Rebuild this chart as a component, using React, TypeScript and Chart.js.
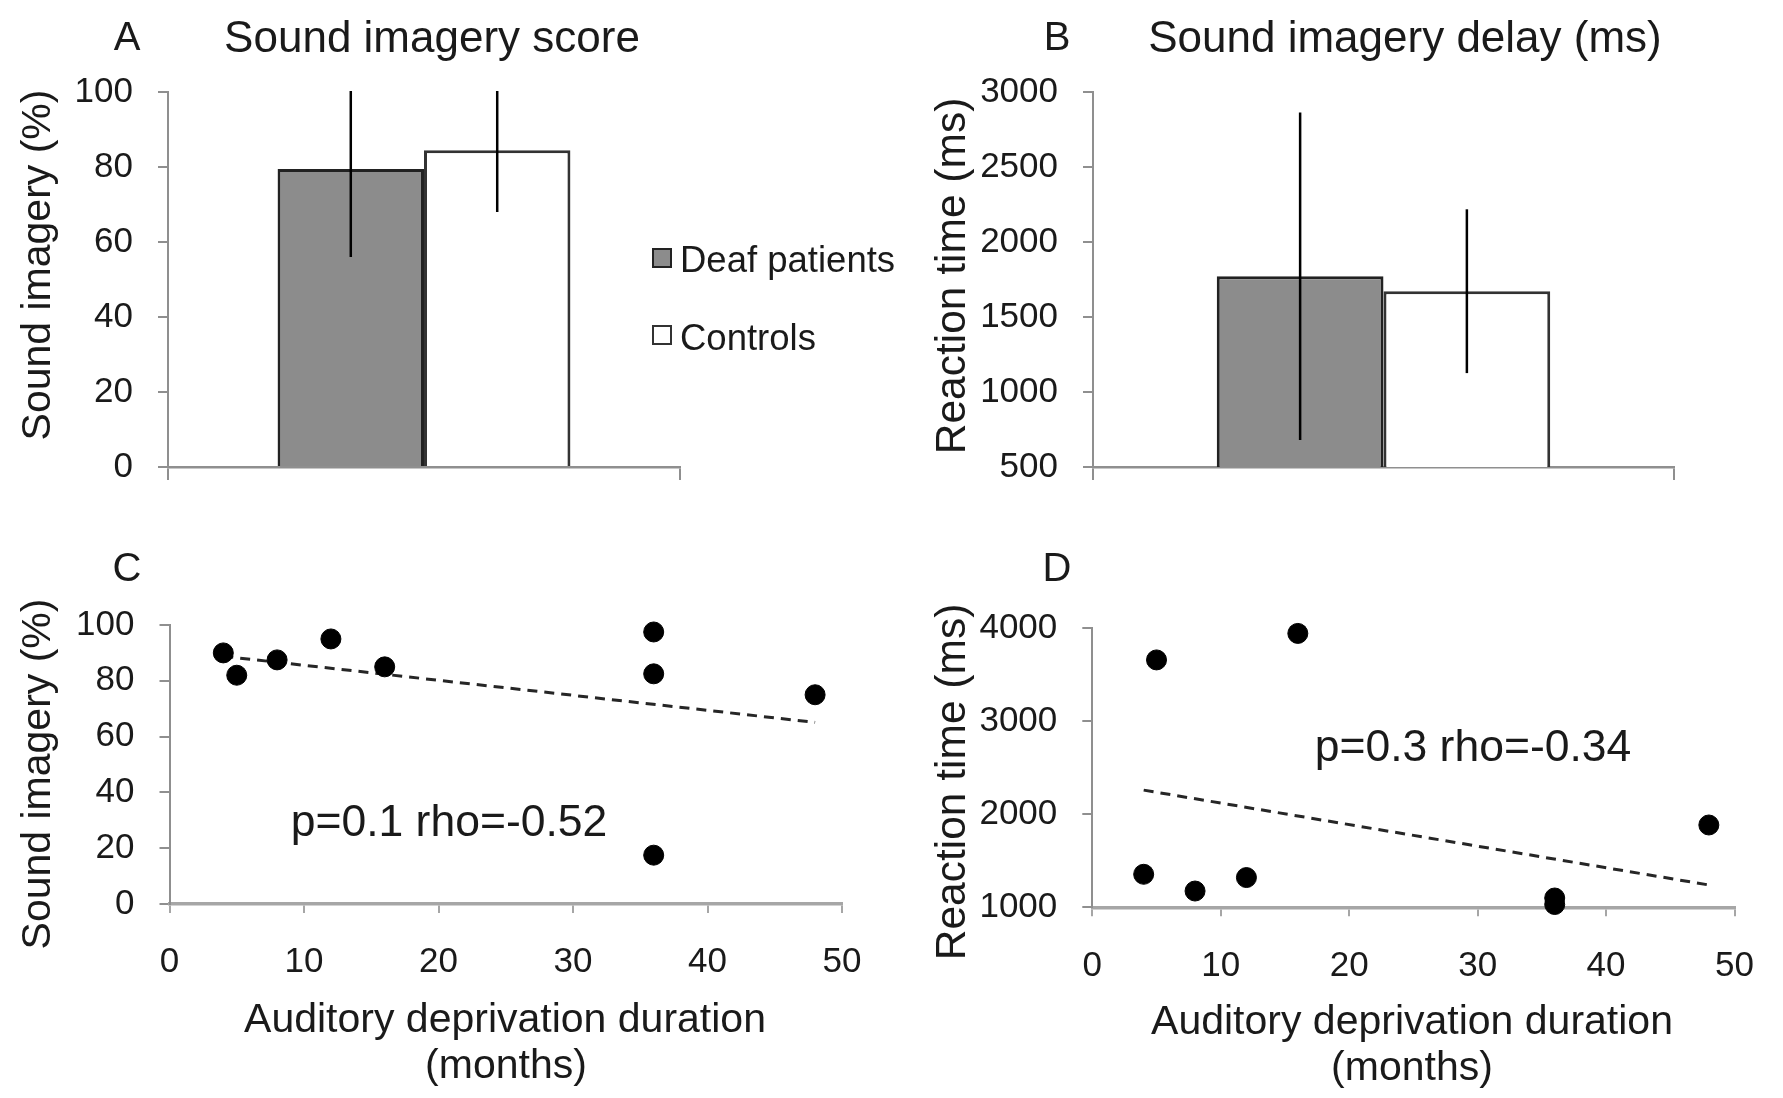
import React, { useEffect, useRef } from 'react';
import { Chart, registerables } from 'chart.js';

Chart.register(...registerables);

const FONT = '"Liberation Sans", Arial, Helvetica, sans-serif';
const INK = '#1a1a1a';
const AXIS = '#8f8f8f';
const AXIS_LIGHT = '#a6a6a6';

// ---- Panels A & B : group means with SD error bars ----
const GROUPS = ['Deaf patients', 'Controls'];
const GROUP_FILL = ['#8c8c8c', '#ffffff'];
const GROUP_EDGE = ['#222222', '#333333'];
const SCORE_MEAN = [79.5, 84.5];
const SCORE_SD = [23.5, 16.5];
const DELAY_MEAN = [1772, 1672];
const DELAY_SD = [1092, 546];

// axis ranges [min, max] and tick steps
const SCORE_RANGE = [0, 100];
const SCORE_STEP = 20;
const DELAY_RANGE = [500, 3000];
const DELAY_STEP = 500;
const MONTH_RANGE = [0, 50];
const MONTH_STEP = 10;
const RT_RANGE = [1000, 4000];
const RT_STEP = 1000;

// ---- Panel C : sound imagery vs deprivation duration ----
const MONTHS_C = [4, 5, 8, 12, 16, 36, 36, 36, 48];
const SCORE_C = [90, 82, 87.5, 95, 85, 97.5, 82.5, 17.5, 75];
const TREND_C_X = [4, 48];
const TREND_C_Y = [88.8, 65.1];

// ---- Panel D : reaction time vs deprivation duration ----
const MONTHS_D = [4, 5, 8, 12, 16, 36, 36, 48];
const RT_D = [1355, 3660, 1175, 1320, 3945, 1100, 1030, 1885];
const TREND_D_X = [4, 48];
const TREND_D_Y = [2260, 1240];

const STATS_C = 'p=0.1 rho=-0.52';
const STATS_D = 'p=0.3 rho=-0.34';

const plainNumber = (v: any) => String(v);

const errorBarPlugin = {
  id: 'errorBars',
  afterDatasetsDraw(chart: any) {
    const { ctx, chartArea, scales } = chart;
    const y = scales.y;
    ctx.save();
    ctx.beginPath();
    ctx.rect(chartArea.left, chartArea.top - 1, chartArea.right - chartArea.left, chartArea.bottom - chartArea.top + 1);
    ctx.clip();
    ctx.strokeStyle = '#000000';
    ctx.lineWidth = 2.5;
    chart.data.datasets.forEach((ds: any, i: number) => {
      const meta = chart.getDatasetMeta(i);
      (ds.errors || []).forEach((sd: number, j: number) => {
        const el = meta.data[j];
        const v = ds.data[j];
        const top = y.getPixelForValue(v + sd);
        const bot = y.getPixelForValue(v - sd);
        ctx.beginPath();
        ctx.moveTo(el.x, top);
        ctx.lineTo(el.x, bot);
        ctx.stroke();
      });
    });
    ctx.restore();
  },
};

function yScale(range: number[], step: number, width: number, color: string) {
  return {
    type: 'linear',
    min: range[0],
    max: range[1],
    ticks: { stepSize: step, font: { family: FONT, size: 35 }, color: INK, padding: 25, callback: plainNumber },
    grid: { drawOnChartArea: false, drawTicks: true, tickLength: 10, color, lineWidth: 2 },
    border: { color, width: 2 },
    afterFit: (s: any) => { s.width = width; },
  };
}

function barConfig(means: number[], sds: number[], range: number[], step: number, yWidth: number, padRight: number, catPct: number) {
  return {
    type: 'bar',
    data: {
      labels: [''],
      datasets: GROUPS.map((g, i) => ({
        label: g,
        data: [means[i]],
        errors: [sds[i]],
        backgroundColor: GROUP_FILL[i],
        borderColor: GROUP_EDGE[i],
        borderWidth: 3,
        categoryPercentage: catPct,
        barPercentage: 1,
      })),
    },
    options: {
      responsive: false,
      animation: false,
      devicePixelRatio: 1,
      layout: { padding: { top: 92, right: padRight, bottom: 0, left: 0 } },
      plugins: { legend: { display: false }, tooltip: { enabled: false } },
      scales: {
        x: {
          type: 'category',
          offset: true,
          grid: { offset: true, drawOnChartArea: false, drawTicks: true, tickLength: 13, color: AXIS, lineWidth: 2 },
          border: { color: AXIS, width: 2.5 },
          ticks: { display: false },
          afterFit: (s: any) => { s.height = 73; },
        },
        y: yScale(range, step, yWidth, AXIS),
      },
    },
    plugins: [errorBarPlugin],
  };
}

function scatterConfig(xs: number[], ys: number[], tx: number[], ty: number[], yRange: number[], yStep: number,
  yWidth: number, padTop: number, padRight: number, xHeight: number, xPad: number) {
  return {
    type: 'scatter',
    data: {
      datasets: [
        {
          label: 'patients',
          data: xs.map((x, i) => ({ x, y: ys[i] })),
          backgroundColor: '#000000',
          borderColor: '#000000',
          pointRadius: 10,
          pointHoverRadius: 10,
          clip: false,
        },
        {
          label: 'trend',
          data: tx.map((x, i) => ({ x, y: ty[i] })),
          showLine: true,
          borderColor: '#262626',
          borderWidth: 3,
          borderDash: [10, 7],
          pointRadius: 0,
          fill: false,
          clip: false,
        },
      ],
    },
    options: {
      responsive: false,
      animation: false,
      devicePixelRatio: 1,
      layout: { padding: { top: padTop, right: padRight, bottom: 0, left: 0 } },
      plugins: { legend: { display: false }, tooltip: { enabled: false } },
      scales: {
        x: {
          type: 'linear',
          min: MONTH_RANGE[0],
          max: MONTH_RANGE[1],
          ticks: { stepSize: MONTH_STEP, font: { family: FONT, size: 35 }, color: INK, padding: xPad, callback: plainNumber },
          grid: { drawOnChartArea: false, drawTicks: true, tickLength: 9, color: AXIS_LIGHT, lineWidth: 2 },
          border: { color: AXIS_LIGHT, width: 3.5 },
          afterFit: (s: any) => { s.height = xHeight; },
        },
        y: yScale(yRange, yStep, yWidth, AXIS),
      },
    },
  };
}

function ChartCanvas({ left, top, width, height, make }: any) {
  const ref = useRef<HTMLCanvasElement | null>(null);
  useEffect(() => {
    const chart = new Chart(ref.current as HTMLCanvasElement, make());
    return () => chart.destroy();
  }, []);
  return (
    <canvas
      ref={ref}
      width={width}
      height={height}
      style={{ position: 'absolute', left, top, width, height }}
    />
  );
}

function Txt({ x, y, size, children, anchor = 'middle', rotate = false }: any) {
  const base: any = {
    position: 'absolute',
    fontFamily: FONT,
    fontSize: size,
    lineHeight: `${size}px`,
    whiteSpace: 'nowrap',
    color: INK,
  };
  if (rotate) {
    return (
      <div style={{ ...base, left: x, top: y, transform: 'translate(-50%, -50%) rotate(-90deg)' }}>{children}</div>
    );
  }
  return (
    <div style={{ ...base, left: x, top: y - 0.8465 * size, transform: anchor === 'middle' ? 'translateX(-50%)' : undefined }}>
      {children}
    </div>
  );
}

export default function App() {
  return (
    <div style={{ position: 'absolute', left: 0, top: 0, width: 1783, height: 1098, background: '#ffffff', overflow: 'hidden' }}>
      <ChartCanvas left={0} top={0} width={890} height={540}
        make={() => barConfig(SCORE_MEAN, SCORE_SD, SCORE_RANGE, SCORE_STEP, 168, 210, 0.572)} />
      <ChartCanvas left={890} top={0} width={893} height={540}
        make={() => barConfig(DELAY_MEAN, DELAY_SD, DELAY_RANGE, DELAY_STEP, 203, 109, 0.574)} />
      <ChartCanvas left={0} top={540} width={890} height={558}
        make={() => scatterConfig(MONTHS_C, SCORE_C, TREND_C_X, TREND_C_Y, SCORE_RANGE, SCORE_STEP, 169.5, 85, 48, 194, 28)} />
      <ChartCanvas left={890} top={540} width={893} height={558}
        make={() => scatterConfig(MONTHS_D, RT_D, TREND_D_X, TREND_D_Y, RT_RANGE, RT_STEP, 202.3, 88.3, 38, 190.7, 29)} />

      {/* panel letters and titles */}
      <Txt x={127} y={50} size={40}>A</Txt>
      <Txt x={432} y={52} size={44}>Sound imagery score</Txt>
      <Txt x={1057} y={50} size={40}>B</Txt>
      <Txt x={1405} y={52} size={44}>Sound imagery delay (ms)</Txt>
      <Txt x={127} y={581} size={40}>C</Txt>
      <Txt x={1057} y={581} size={40}>D</Txt>

      {/* y-axis titles */}
      <Txt x={36} y={265} size={41} rotate>Sound imagery (%)</Txt>
      <Txt x={951} y={276} size={42.5} rotate>Reaction time (ms)</Txt>
      <Txt x={36} y={774} size={41} rotate>Sound imagery (%)</Txt>
      <Txt x={951} y={782} size={42.5} rotate>Reaction time (ms)</Txt>

      {/* x-axis titles */}
      <Txt x={505} y={1033} size={41}>Auditory deprivation duration</Txt>
      <Txt x={506} y={1079} size={41}>(months)</Txt>
      <Txt x={1412} y={1035} size={41}>Auditory deprivation duration</Txt>
      <Txt x={1412} y={1081} size={41}>(months)</Txt>

      {/* statistics */}
      <Txt x={449} y={837} size={44.5}>{STATS_C}</Txt>
      <Txt x={1473} y={762} size={44.5}>{STATS_D}</Txt>

      {/* legend */}
      {GROUPS.map((g, i) => (
        <React.Fragment key={g}>
          <div style={{
            position: 'absolute', left: 652, top: 248 + i * 77, width: 20, height: 20, boxSizing: 'border-box',
            background: GROUP_FILL[i], border: `2px solid ${GROUP_EDGE[i]}`,
          }} />
          <Txt x={680} y={273 + i * 78} size={36.5} anchor="start">{g}</Txt>
        </React.Fragment>
      ))}
    </div>
  );
}
